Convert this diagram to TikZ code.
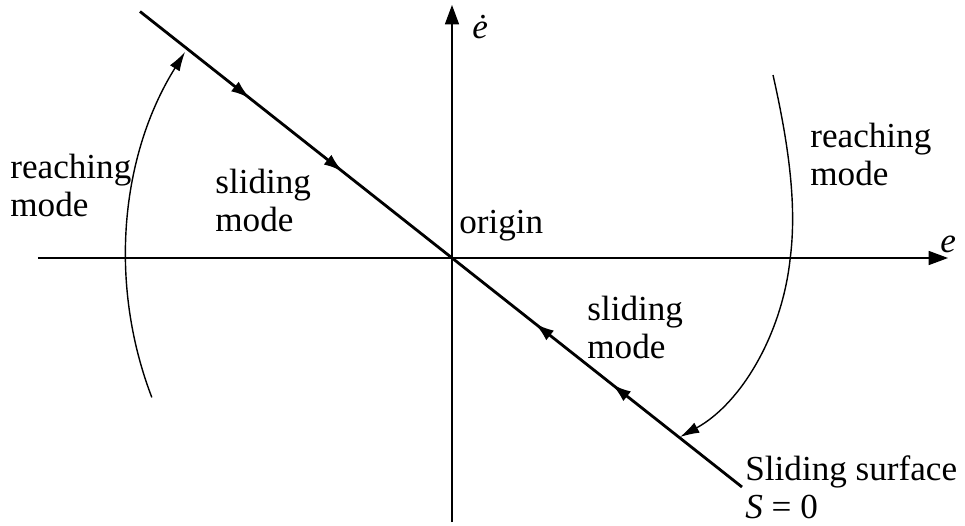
\documentclass[tikz,border=0pt]{standalone}
\usepackage{fontspec}
\setmainfont{Liberation Serif}
\usepackage{tikz}
\usetikzlibrary{arrows.meta,positioning,decorations.markings,calc}
\tikzset{
  axis/.style={line width=0.75pt,-{Triangle[length=11pt,width=8pt]}},
  surf/.style={line width=1.6pt,
               decoration={markings,
                 mark=at position 0.183 with {\arrow{Latex[length=11pt,width=7pt]}},
                 mark=at position 0.337 with {\arrow{Latex[length=11pt,width=7pt]}},
                 mark=at position 0.656 with {\arrowreversed{Latex[length=11pt,width=7pt]}},
                 mark=at position 0.784 with {\arrowreversed{Latex[length=11pt,width=7pt]}}},
               postaction=decorate},
  reach/.style={line width=0.8pt,-{Latex[length=11pt,width=6.5pt]}},
  lbl/.style={anchor=base west,inner sep=0pt,align=left,
              font=\fontsize{20}{21.6}\selectfont},
}

\begin{document}
\begin{tikzpicture}
  \useasboundingbox (-9.04,-5.34) rectangle (10.26,5.16);

  % --- axes ---
  \coordinate (O) at (0,0);
  \coordinate (xl) at (-8.28,0);
  \coordinate (xr) at (9.92,0);
  \coordinate (yb) at (0,-5.28);
  \coordinate (yt) at (0,5.06);
  \draw[axis] (xl) -- (xr);
  \draw[axis] (yb) -- (yt);

  % --- sliding surface ---
  \coordinate (s1) at (-6.24,4.93);
  \coordinate (s2) at (5.80,-4.58);
  \draw[surf] (s1) -- (s2);

  % --- reaching modes ---
  \coordinate (lc) at (1.26,0);
  \draw[reach] (lc) ++(201:7.78) arc[start angle=201, end angle=148, radius=7.78];
  \draw[reach] (6.42,3.66) .. controls (6.75,2.2) and (6.9,1.0) .. (6.76,-0.04)
    .. controls (6.6,-1.5) and (5.8,-2.9) .. (4.56,-3.58);

  % --- labels (base = last line) ---
  \node[lbl] (reachl) at (-8.84,0.83) {reaching\\mode};
  \node[lbl] (slidu) at (-4.74,0.53) {sliding\\mode};
  \node[lbl] (orig) at (0.14,0.5) {origin};
  \node[lbl] (reachr) at (7.16,1.46) {reaching\\mode};
  \node[lbl] (slidl) at (2.7,-2.0) {sliding\\mode};
  \node[lbl] (surflbl) at (5.86,-5.2) {Sliding surface\\\textit{S} = 0};
  \node[lbl] (edot) at (0.4,4.4) {\textit{\.e}};
  \node[lbl] (elbl) at (9.76,0.12) {\textit{e}};
\end{tikzpicture}
\end{document}
